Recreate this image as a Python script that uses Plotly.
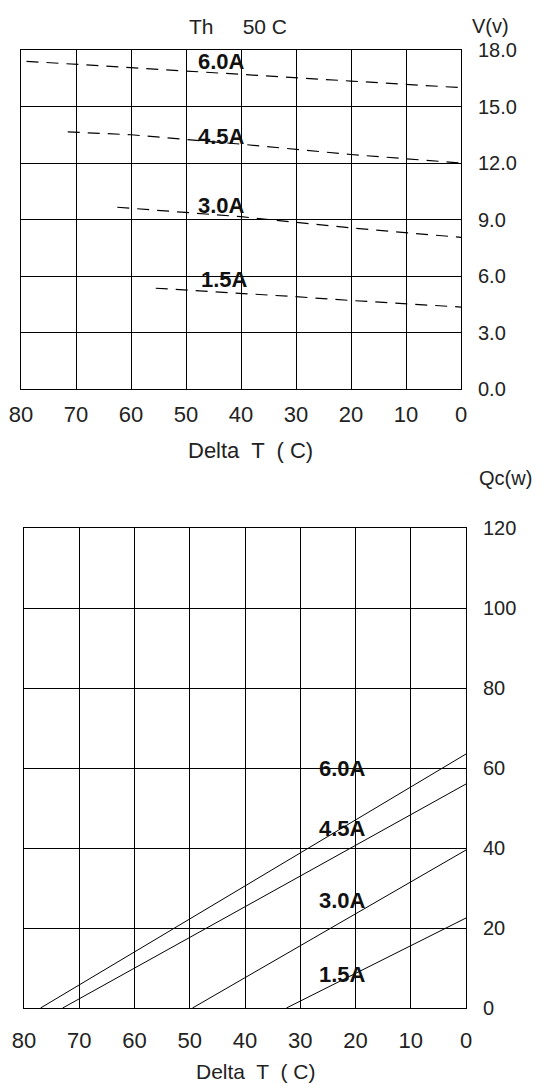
import plotly.graph_objects as go

W, H = 547, 1084

# ---- data: top chart, voltage vs Delta T (dashed) ----
v_currents = ["6.0A", "4.5A", "3.0A", "1.5A"]
v_dt = {
    "6.0A": [79, 60, 40, 20, 0],
    "4.5A": [71.5, 60, 40, 20, 0],
    "3.0A": [62.5, 40, 30, 20, 0],
    "1.5A": [55.5, 40, 30, 20, 0],
}
v_vals = {
    "6.0A": [17.4, 17.05, 16.7, 16.35, 16.0],
    "4.5A": [13.65, 13.5, 13.0, 12.45, 12.0],
    "3.0A": [9.65, 9.15, 8.85, 8.55, 8.05],
    "1.5A": [5.35, 5.1, 4.9, 4.7, 4.35],
}
v_label_pos = {"6.0A": (43.5, 17.4), "4.5A": (43.5, 13.4), "3.0A": (43.5, 9.75), "1.5A": (43.0, 5.8)}

# ---- data: bottom chart, Qc vs Delta T ----
q_dt = {
    "6.0A": [77, 60, 40, 20, 0],
    "4.5A": [73, 60, 40, 20, 0],
    "3.0A": [49.5, 40, 20, 0],
    "1.5A": [32.5, 20, 0],
}
q_vals = {
    "6.0A": [0, 14, 30.5, 47, 63.5],
    "4.5A": [0, 10, 25.3, 40.7, 56],
    "3.0A": [0, 7.6, 23.5, 39.5],
    "1.5A": [0, 8.7, 22.5],
}
q_label_pos = {"6.0A": (22.4, 60), "4.5A": (22.4, 45), "3.0A": (22.4, 26.8), "1.5A": (22.4, 8.5)}

x_ticks = [80, 70, 60, 50, 40, 30, 20, 10, 0]
v_ticks = [0, 3, 6, 9, 12, 15, 18]
q_ticks = [0, 20, 40, 60, 80, 100, 120]

FONT = "Liberation Sans, Arial, sans-serif"

fig = go.Figure()

for c in v_currents:
    fig.add_trace(go.Scatter(x=v_dt[c], y=v_vals[c], mode="lines", xaxis="x", yaxis="y",
                             line=dict(color="black", width=1.2, dash="12px,8px"),
                             showlegend=False, hoverinfo="skip"))
for c in v_currents:
    fig.add_trace(go.Scatter(x=q_dt[c], y=q_vals[c], mode="lines", xaxis="x2", yaxis="y2",
                             line=dict(color="black", width=1),
                             showlegend=False, hoverinfo="skip"))

def px_x(p):
    return p / W

def px_y(p):
    return 1 - p / H

axis_common = dict(showgrid=True, gridcolor="black", gridwidth=1, zeroline=False,
                   showline=True, linecolor="black", linewidth=1, mirror=True, automargin=False,
                   ticks="")
xfont = dict(family=FONT, size=22, color="#222")
yfont = dict(family=FONT, size=20, color="#222")

fig.update_layout(
    width=W, height=H, margin=dict(l=0, r=0, t=0, b=0, autoexpand=False),
    paper_bgcolor="white", plot_bgcolor="white",
    xaxis=dict(domain=[px_x(21), px_x(461)], range=[80, 0], tickvals=x_ticks, tickfont=xfont,
               anchor="y", ticklabelstandoff=6, **axis_common),
    yaxis=dict(domain=[px_y(389), px_y(50)], range=[0, 18], tickvals=v_ticks, tickformat=".1f",
               tickfont=yfont, side="right", anchor="x", ticklabelstandoff=12, **axis_common),
    xaxis2=dict(domain=[px_x(24), px_x(466)], range=[80, 0], tickvals=x_ticks, tickfont=xfont,
                anchor="y2", ticklabelstandoff=13, **axis_common),
    yaxis2=dict(domain=[px_y(1008), px_y(528)], range=[0, 120], tickvals=q_ticks,
                tickfont=yfont, side="right", anchor="x2", ticklabelstandoff=12, **axis_common),
)

ann = []
for c in v_currents:
    x, y = v_label_pos[c]
    ann.append(dict(x=x, y=y, xref="x", yref="y", text=f"<b>{c}</b>", showarrow=False,
                    font=dict(family=FONT, size=22, color="#111")))
for c in v_currents:
    x, y = q_label_pos[c]
    ann.append(dict(x=x, y=y, xref="x2", yref="y2", text=f"<b>{c}</b>", showarrow=False,
                    font=dict(family=FONT, size=22, color="#111")))

def paper_text(text, x, y, size=21, xanchor="center"):
    return dict(x=px_x(x), y=px_y(y), xref="paper", yref="paper", text=text, showarrow=False,
                xanchor=xanchor, yanchor="middle", font=dict(family=FONT, size=size, color="#222"))

ann += [
    paper_text("Th     50 C", 238, 26),
    paper_text("V(v)", 490, 26, size=20),
    paper_text("Delta  T  ( C)", 250, 451, size=22),
    paper_text("Qc(w)", 477, 478, size=20, xanchor="left"),
    paper_text("Delta  T  ( C)", 255, 1071, size=21),
]
fig.update_layout(annotations=ann)

fig.write_html("out.html", config={"displayModeBar": False},
               post_script="document.body.style.margin='0';document.body.style.overflow='hidden';")
